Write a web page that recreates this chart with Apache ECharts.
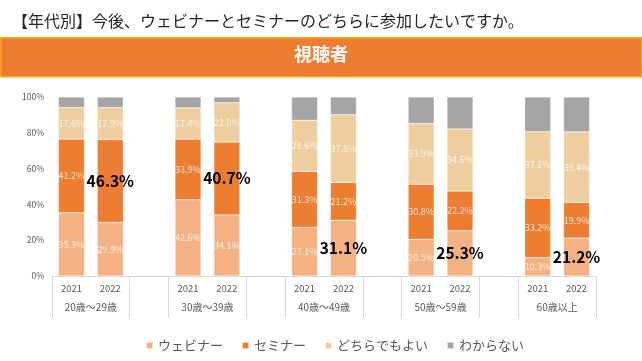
<!DOCTYPE html>
<html>
<head>
<meta charset="utf-8">
<script src="https://cdn.jsdelivr.net/npm/echarts@6/dist/echarts.min.js"></script>
<style>
  html, body { margin: 0; padding: 0; background: #fff; }
  #chart { width: 642px; height: 361px; }
</style>
</head>
<body>
<div id="chart"></div>
<script>
const groups = ['20歳〜29歳', '30歳〜39歳', '40歳〜49歳', '50歳〜59歳', '60歳以上'];
const years = ['2021', '2022'];
const seriesNames = ['ウェビナー', 'セミナー', 'どちらでもよい', 'わからない'];
// values per group: [2021, 2022]
const webinar = [[35.3, 29.9], [42.6, 34.1], [27.1, 31.1], [20.5, 25.3], [10.3, 21.2]];
const seminar = [[41.2, 46.3], [33.9, 40.7], [31.3, 21.2], [30.8, 22.2], [33.2, 19.9]];
const either  = [[17.6, 17.9], [17.4, 22.0], [28.6, 37.8], [33.9, 34.6], [37.1, 39.4]];
const unknown = [[5.9, 5.9], [6.1, 3.2], [13.0, 9.9], [14.8, 17.9], [19.4, 19.5]];
// highlighted 2022 value in each group
const highlight = ['セミナー', 'セミナー', 'ウェビナー', 'ウェビナー', 'ウェビナー'];
const yTicks = [0, 20, 40, 60, 80, 100];

const colors = ['#F4B183', '#ED7D31', '#EECD9E', '#A5A5A5'];
const FONT = '"Noto Sans CJK JP", "Noto Sans", sans-serif';

// categories with a blank slot between groups
const categories = [];
groups.forEach((g, gi) => {
  years.forEach(y => categories.push(y));
  if (gi < groups.length - 1) categories.push('');
});

function buildData(arr, name) {
  const out = [];
  arr.forEach((pair, gi) => {
    pair.forEach((v, yi) => {
      if (yi === 1 && highlight[gi] === name) {
        out.push({ value: v, label: { fontSize: 15.5, fontWeight: 'bold', color: '#000', fontFamily: FONT } });
      } else {
        out.push(v);
      }
    });
    if (gi < arr.length - 1) out.push('-');
  });
  return out;
}

const seriesData = [webinar, seminar, either, unknown];

const tickVals = [], labelVals = [];
groups.forEach((g, gi) => {
  tickVals.push(gi * 3 - 0.5, gi * 3 + 1.5);
  labelVals.push(gi * 3 + 0.5);
});

const chart = echarts.init(document.getElementById('chart'));
chart.setOption({
  animation: false,
  textStyle: { fontFamily: FONT },
  title: {
    text: '【年代別】今後、ウェビナーとセミナーのどちらに参加したいですか。',
    left: 7, top: 8,
    textStyle: { fontSize: 16, fontWeight: 'normal', color: '#262626', fontFamily: FONT }
  },
  graphic: [
    {
      type: 'rect', left: 0, top: 37,
      shape: { width: 641, height: 39 },
      style: { fill: '#ED7D31', stroke: '#FFA51F', lineWidth: 1.5 }
    },
    {
      type: 'text', left: 'center', top: 45,
      style: { text: '視聴者', fill: '#fff', font: 'bold 18px ' + FONT }
    }
  ],
  legend: {
    data: seriesNames,
    left: 140, bottom: 4,
    icon: 'rect', itemWidth: 7, itemHeight: 7, itemGap: 18,
    textStyle: { fontSize: 13, color: '#595959', fontFamily: FONT }
  },
  grid: { left: 52, right: 46, top: 97, bottom: 85 },
  xAxis: [
    {
      type: 'category', data: categories,
      axisLine: { show: true, lineStyle: { color: '#D9D9D9' } },
      axisTick: { show: false },
      axisLabel: { interval: 0, fontSize: 9.5, color: '#595959', margin: 8 }
    },
    {
      type: 'value', min: -0.5, max: 13.5, position: 'bottom',
      axisLine: { show: false },
      splitLine: { show: false },
      axisTick: { show: true, customValues: tickVals, length: 42, lineStyle: { color: '#D9D9D9' } },
      axisLabel: {
        customValues: labelVals, fontSize: 10, color: '#595959', margin: 26,
        formatter: v => groups[Math.round((v - 0.5) / 3)]
      }
    }
  ],
  yAxis: {
    type: 'value', min: 0, max: 100, interval: 20,
    axisLine: { show: false }, axisTick: { show: false },
    splitLine: { show: false },
    axisLabel: { formatter: '{value}%', fontSize: 8.5, color: '#595959', margin: 8 }
  },
  series: seriesNames.map((name, si) => ({
    name, type: 'bar', stack: 'total', xAxisIndex: 0,
    barCategoryGap: '33%',
    itemStyle: { color: colors[si], borderColor: 'rgba(255,255,255,0.6)', borderWidth: 0.5 },
    label: {
      show: si < 3, position: 'inside', fontSize: 9,
      color: 'rgba(255,255,255,0.8)',
      formatter: p => p.value.toFixed(1) + '%'
    },
    data: buildData(seriesData[si], name)
  }))
});
</script>
</body>
</html>
